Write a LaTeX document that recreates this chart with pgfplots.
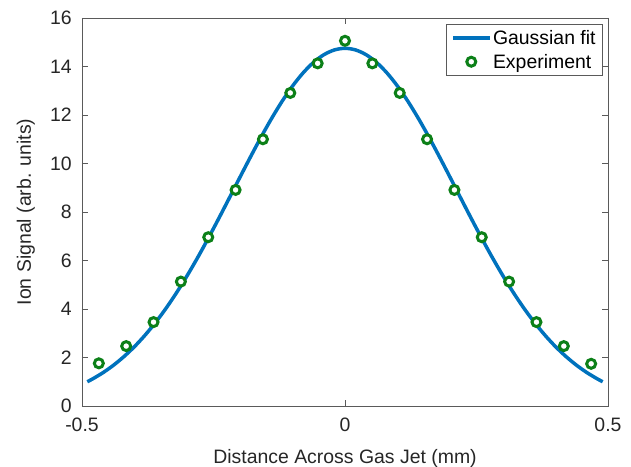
\documentclass[border=0pt]{standalone}
\usepackage{fontspec}
\setmainfont{Liberation Sans}
\usepackage{pgfplots}
\pgfplotsset{compat=1.18}
\definecolor{fitblue}{RGB}{0,114,189}
\definecolor{expgreen}{RGB}{12,128,24}
\definecolor{axgray}{RGB}{90,90,90}
\newcommand{\chartfont}{\fontsize{19.5}{22}\selectfont}

\begin{document}
\begin{tikzpicture}
\useasboundingbox (-82bp,-61bp) rectangle (549bp,406bp);
\begin{axis}[
    at={(0,0)}, anchor=south west,
    scale only axis,
    width=526bp, height=388bp,
    xmin=-0.5, xmax=0.5,
    ymin=0, ymax=16,
    xtick={-0.5,0,0.5},
    xticklabels={-0.5,0,0.5},
    ytick={0,2,4,6,8,10,12,14,16},
    /pgf/number format/assume math mode=true,
    tick label style={font=\chartfont, black!85, inner sep=0pt},
    xticklabel style={yshift=-12bp},
    yticklabel style={xshift=-10bp},
    label style={font=\chartfont, black!85},
    axis line style={axgray, line width=0.9bp},
    major tick style={axgray, line width=0.8bp},
    major tick length=6bp,
    tick align=inside,
    xlabel={Distance Across Gas Jet (mm)},
    ylabel={Ion Signal (arb. units)},
    xlabel style={at={(axis description cs:0.5,-0.147)}, anchor=base},
    ylabel style={at={(axis description cs:-0.097,0.5)}, anchor=base, rotate=0},
    legend cell align=left,
    legend style={at={(1,1)}, anchor=north east, xshift=-5bp, yshift=-6bp,
        draw=axgray, line width=0.8bp, font=\chartfont,
        inner xsep=5bp, inner ysep=4bp, row sep=4bp},
    legend image code/.code={%
        \draw[mark repeat=2, mark phase=2, #1]
        plot coordinates {(0bp,0bp) (18bp,0bp) (36bp,0bp)};},
]
\addplot[fitblue, line width=3.5bp, smooth] coordinates {
(-0.49,1.000) (-0.48,1.115) (-0.46,1.376) (-0.44,1.684) (-0.42,2.043)
(-0.40,2.454) (-0.38,2.924) (-0.36,3.451) (-0.34,4.037) (-0.32,4.681)
(-0.30,5.379) (-0.28,6.126) (-0.26,6.914) (-0.24,7.734) (-0.22,8.574)
(-0.20,9.421) (-0.18,10.258) (-0.16,11.071) (-0.14,11.841) (-0.12,12.551)
(-0.10,13.186) (-0.08,13.729) (-0.06,14.167) (-0.04,14.488) (-0.02,14.684)
(0.00,14.750)
(0.02,14.684) (0.04,14.488) (0.06,14.167) (0.08,13.729) (0.10,13.186)
(0.12,12.551) (0.14,11.841) (0.16,11.071) (0.18,10.258) (0.20,9.421)
(0.22,8.574) (0.24,7.734) (0.26,6.914) (0.28,6.126) (0.30,5.379)
(0.32,4.681) (0.34,4.037) (0.36,3.451) (0.38,2.924) (0.40,2.454)
(0.42,2.043) (0.44,1.684) (0.46,1.376) (0.48,1.115) (0.49,1.000)
};
\addlegendentry{Gaussian fit}
\addplot[only marks, mark=*, mark size=4.5bp,
    mark options={draw=expgreen, fill=white, line width=3bp}] coordinates {
(-0.468,1.76) (-0.416,2.47) (-0.364,3.46) (-0.312,5.13) (-0.260,6.96)
(-0.208,8.91) (-0.156,11.00) (-0.104,12.91) (-0.052,14.13) (0.000,15.06)
(0.052,14.13) (0.104,12.91) (0.156,11.00) (0.208,8.91) (0.260,6.96)
(0.312,5.13) (0.364,3.46) (0.416,2.47) (0.468,1.74)
};
\addlegendentry{Experiment}
\end{axis}
\end{tikzpicture}
\end{document}
